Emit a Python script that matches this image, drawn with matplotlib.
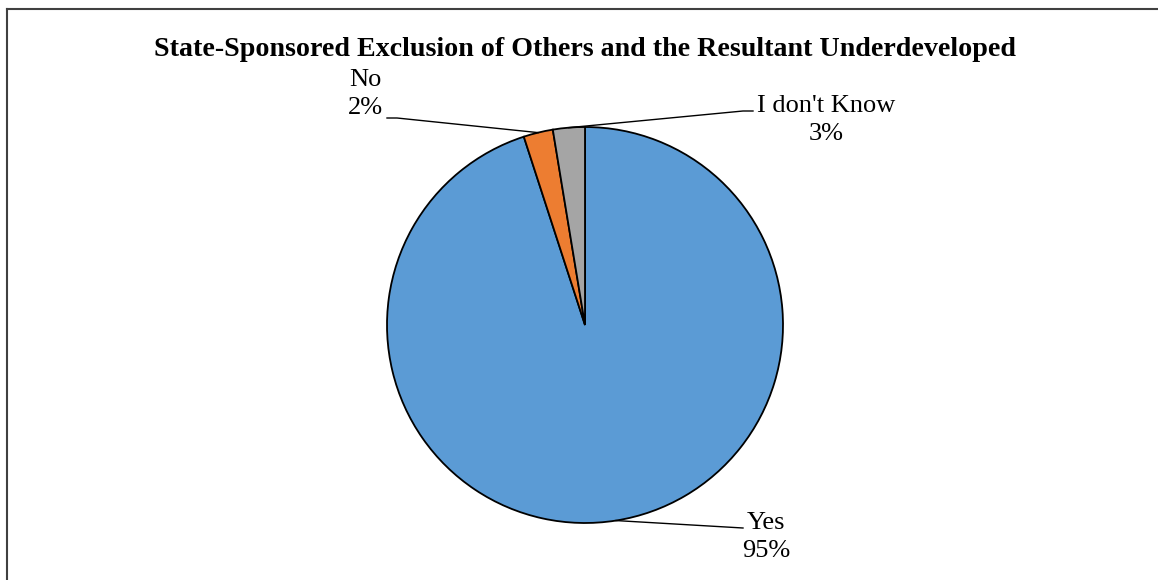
import matplotlib
matplotlib.use("Agg")
import matplotlib.pyplot as plt
import numpy as np
from matplotlib.lines import Line2D

categories = ["Yes", "No", "I don't Know"]
values = [95.0, 2.4, 2.6]
colors = ["#5B9BD5", "#ED7D31", "#A5A5A5"]
title = "State-Sponsored Exclusion of Others and the Resultant Underdeveloped"

W, H = 1158, 580
plt.rcParams['font.family'] = ['Liberation Serif', 'DejaVu Serif']
fig = plt.figure(figsize=(W / 100, H / 100), dpi=100)
ax = fig.add_axes([0, 0, 1, 1])

cx, cy, R = 585, 325, 198
wedges, _ = ax.pie(values, colors=colors, startangle=90, counterclock=False,
                   wedgeprops=dict(edgecolor="black", linewidth=1.3))
ax.set_xlim(-cx / R, (W - cx) / R)
ax.set_ylim(-(H - cy) / R, cy / R)
ax.set_aspect('auto')
ax.axis('off')

def d(px, py):
    return ((px - cx) / R, (cy - py) / R)

# label layout: (elbow point, end point, text position)
layout = {
    "Yes": (d(743, 528), d(743, 528), d(766, 537)),
    "No": (d(397, 118), d(387, 118), d(365, 94)),
    "I don't Know": (d(743, 111), d(753, 111), d(826, 120)),
}
total = sum(values)
for w, cat, v in zip(wedges, categories, values):
    ang = np.deg2rad((w.theta1 + w.theta2) / 2)
    sx, sy = np.cos(ang), np.sin(ang)
    elbow, end, tpos = layout[cat]
    ax.add_line(Line2D([sx, elbow[0], end[0]], [sy, elbow[1], end[1]],
                       color="black", linewidth=1.0))
    pct = int(round(100 * v / total))
    ax.text(tpos[0], tpos[1], f"{cat}\n{pct}%", ha="center", va="center",
            fontsize=19, linespacing=1.35)

fig.text(585 / W, 1 - 50 / H, title, ha="center", va="center",
         fontsize=20.2, fontweight="bold")

# partial frame border
fig.add_artist(Line2D([7 / W, 7 / W], [0, 1 - 9 / H], transform=fig.transFigure,
                      color="#404040", linewidth=1.5))
fig.add_artist(Line2D([7 / W, 1], [1 - 9 / H, 1 - 9 / H], transform=fig.transFigure,
                      color="#404040", linewidth=1.5))

fig.savefig("out.png", dpi=100)
